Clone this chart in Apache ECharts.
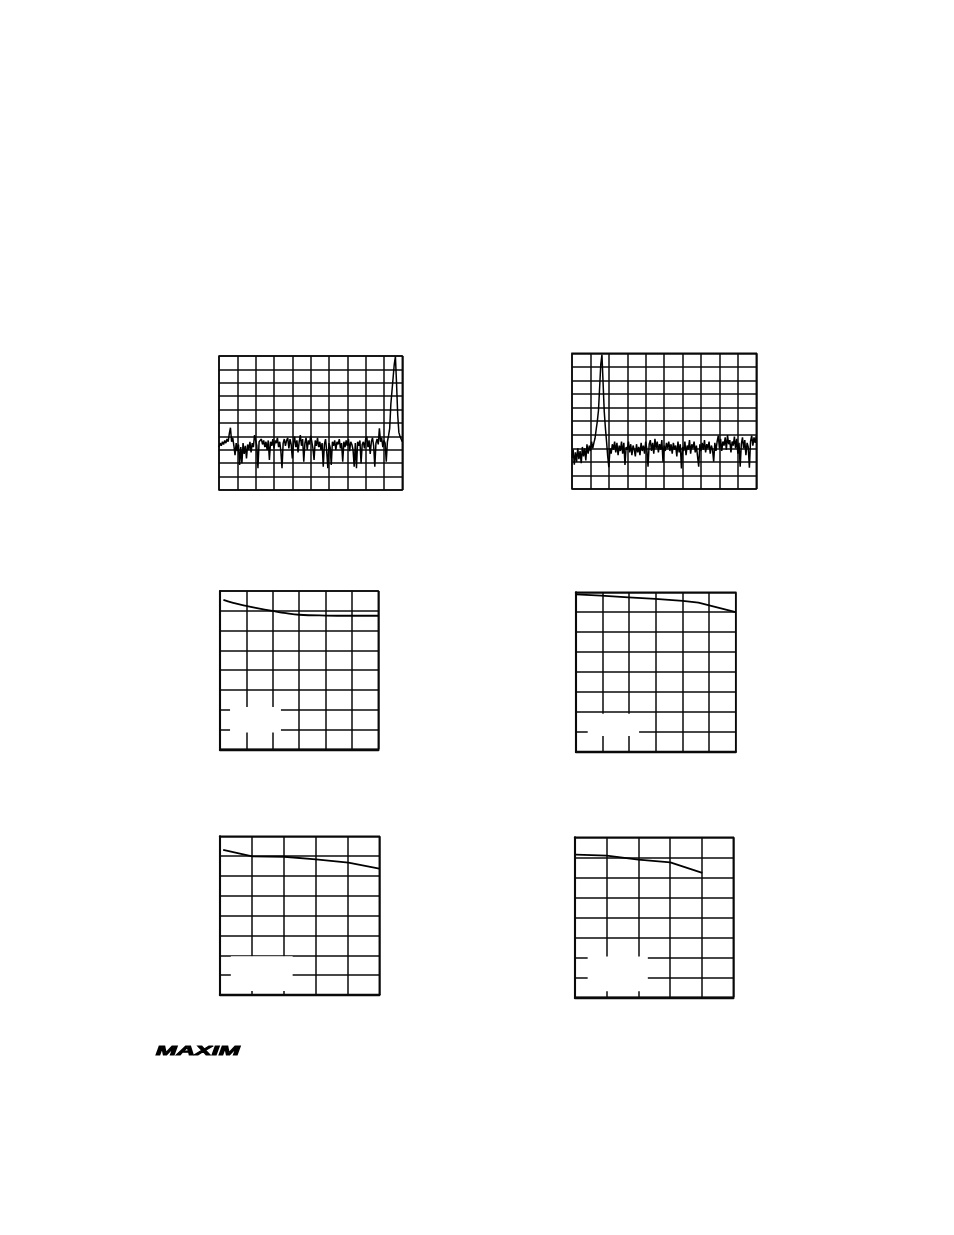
<!DOCTYPE html>
<html>
<head>
<meta charset="utf-8">
<script src="https://cdn.jsdelivr.net/npm/echarts@6/dist/echarts.min.js"></script>
<style>
html,body{margin:0;padding:0;background:#fff;}
#c{width:954px;height:1235px;}
</style>
</head>
<body>
<div id="c"></div>
<script>
// Spectrum traces (grid units, 10 x 10 divisions), sampled uniformly across the sweep
const spectrum1 = [3.2,3.5,3.3,3.6,3.4,3.7,3.5,3.8,3.6,4.2,4.65,3.6,3.9,3.3,2.6,3.5,2.9,3.4,1.87,3.2,
2.0,3.5,2.7,3.3,2.36,3.4,3.0,3.6,2.8,3.5,3.2,4.1,3.7,3.3,1.62,3.6,3.5,3.8,3.4,3.7,
3.2,3.6,3.0,3.7,2.24,3.6,3.3,3.8,3.1,3.7,3.5,3.9,3.2,3.6,2.9,1.62,3.5,3.8,3.3,3.7,
3.9,3.1,3.8,3.4,2.36,3.5,3.98,3.2,3.7,2.8,3.6,4.1,3.3,3.8,2.11,3.5,3.9,3.0,3.7,3.4,
4.05,3.6,3.1,2.24,3.7,3.3,3.9,3.2,3.6,3.0,3.5,1.74,3.4,3.8,2.9,1.62,3.5,3.2,1.87,3.6,
3.3,3.7,3.0,3.6,3.4,3.8,3.1,3.5,2.11,3.6,3.2,3.7,3.3,3.8,2.9,3.6,3.4,3.0,1.74,3.5,
1.62,3.6,3.3,3.7,1.99,3.4,3.6,3.1,3.8,3.98,3.2,3.7,2.7,3.6,3.9,3.3,1.74,3.5,3.8,3.4,
4.6,3.6,3.9,3.2,3.7,3.5,2.11,3.6,4.05,4.6,6.4,7.4,8.4,9.4,9.95,7.9,5.6,4.3,4.0,3.9,3.6];

const spectrum2 = [2.3,2.9,1.8,2.7,2.0,3.0,2.2,2.8,1.9,3.1,2.4,3.0,2.1,3.3,2.6,3.2,2.8,3.5,3.0,3.4,
3.74,4.4,5.0,5.8,7.5,9.2,9.9,7.8,5.7,4.5,3.5,2.4,1.6,3.0,2.6,3.3,2.9,3.5,2.7,3.4,
2.5,3.2,2.8,3.5,2.6,3.4,1.77,3.1,2.9,3.5,2.7,3.3,2.5,3.2,2.9,2.4,3.3,2.7,3.1,2.5,
3.4,2.8,3.2,2.6,3.5,2.9,1.64,3.3,3.6,2.8,3.4,2.6,3.7,3.0,3.5,2.7,3.3,2.9,3.6,2.01,
3.2,2.8,3.4,3.0,3.5,2.8,3.3,2.6,3.4,2.9,3.2,2.4,3.5,2.7,3.3,1.52,3.1,2.8,3.5,2.5,
3.2,2.9,3.6,2.6,3.3,3.0,3.5,2.7,3.2,2.4,1.64,3.3,2.8,3.4,2.9,3.6,2.7,3.3,3.0,3.5,
2.6,3.2,2.9,2.01,3.4,2.8,3.5,3.93,3.0,3.7,2.8,3.5,3.2,3.8,2.9,3.98,3.3,3.6,2.7,3.5,
3.2,3.86,3.0,3.7,2.6,3.4,1.64,3.3,3.8,3.0,3.6,2.5,3.4,3.1,1.57,3.5,3.93,3.2,3.8,3.4,3.9];

// Curves (grid units)
const curve3X = [0.13,0.5,1.0,1.5,2.0,2.5,3.0,4.0,5.0,6.0];
const curve3Y = [7.55,7.40,7.25,7.11,6.99,6.88,6.80,6.76,6.75,6.75];
const curve4X = [0,0.94,1.97,2.98,4.01,4.6,6.0];
const curve4Y = [7.90,7.83,7.75,7.67,7.57,7.48,7.00];
const curve5X = [0.10,1.01,2.01,3.01,4.03,5.0];
const curve5Y = [7.31,6.99,6.97,6.84,6.67,6.37];
const curve6X = [0.03,1.0,2.0,3.01,4.02];
const curve6Y = [7.13,7.08,6.88,6.75,6.22];

// Blank (erased legend) areas, grid units [x1,y1,x2,y2]
const blank3 = [0.38,0.85,2.31,2.14];
const blank4 = [0.44,0.79,2.37,1.9];
const blank5 = [0.34,0.2,2.28,1.95];
const blank6 = [0.4,0.3,2.3,2.04];

const pairs = (xs, ys) => xs.map((x, i) => [x, ys[i]]);

const grids = [
  {left:219, top:356, width:183.3, height:134, nx:10, ny:10},
  {left:572, top:353.3, width:184.3, height:135.7, nx:10, ny:10},
  {left:220, top:591, width:158.3, height:158.3, nx:6, ny:8},
  {left:576, top:592.3, width:159.7, height:159.4, nx:6, ny:8},
  {left:220, top:836.3, width:159.3, height:158.7, nx:5, ny:8},
  {left:575, top:837.3, width:158.3, height:160, nx:5, ny:8}
];

const LC = '#0a0a0a';
const gridOpt = grids.map(g => ({
  left:g.left, top:g.top, width:g.width, height:g.height,
  show:true, borderColor:LC, borderWidth:1.5, backgroundColor:'transparent'
}));

const xAxes = [], yAxes = [];
grids.forEach((g, gi) => {
  const heavy = gi >= 2;
  xAxes.push({
    type:'value', gridIndex:gi, min:0, max:g.nx, interval:1,
    axisLabel:{show:false}, axisTick:{show:false},
    axisLine:{show:heavy, onZero:false, lineStyle:{color:LC, width:2.4}},
    splitLine:{show:true, lineStyle:{color:LC, width:1.5}}
  });
  yAxes.push({
    type:'value', gridIndex:gi, min:0, max:g.ny, interval:1,
    axisLabel:{show:false}, axisTick:{show:false},
    axisLine:{show:heavy, onZero:false, lineStyle:{color:LC, width:2.1}},
    splitLine:{show:true, lineStyle:{color:LC, width:1.5}}
  });
});
// hidden category axes for the spectrum traces
[spectrum1, spectrum2].forEach((s, gi) => {
  xAxes.push({
    type:'category', gridIndex:gi, boundaryGap:false,
    data:s.map((_, i) => i), show:false
  });
});

const blankArea = b => ({
  silent:true,
  itemStyle:{color:'#ffffff', opacity:1},
  data:[[{xAxis:b[0], yAxis:b[1]}, {xAxis:b[2], yAxis:b[3]}]]
});

const series = [
  {type:'line', xAxisIndex:6, yAxisIndex:0, data:spectrum1, showSymbol:false,
   lineStyle:{color:'#000', width:1.5}},
  {type:'line', xAxisIndex:7, yAxisIndex:1, data:spectrum2, showSymbol:false,
   lineStyle:{color:'#000', width:1.5}},
  {type:'line', xAxisIndex:2, yAxisIndex:2, data:pairs(curve3X, curve3Y), showSymbol:false, smooth:0.4,
   lineStyle:{color:'#000', width:1.8}, markArea:blankArea(blank3)},
  {type:'line', xAxisIndex:3, yAxisIndex:3, data:pairs(curve4X, curve4Y), showSymbol:false,
   lineStyle:{color:'#000', width:1.8}, markArea:blankArea(blank4)},
  {type:'line', xAxisIndex:4, yAxisIndex:4, data:pairs(curve5X, curve5Y), showSymbol:false,
   lineStyle:{color:'#000', width:1.8}, markArea:blankArea(blank5)},
  {type:'line', xAxisIndex:5, yAxisIndex:5, data:pairs(curve6X, curve6Y), showSymbol:false,
   lineStyle:{color:'#000', width:1.8}, markArea:blankArea(blank6)}
];

const chart = echarts.init(document.getElementById('c'), null, {renderer:'canvas'});
chart.setOption({
  backgroundColor:'#ffffff',
  animation:false,
  grid:gridOpt,
  xAxis:xAxes,
  yAxis:yAxes,
  series:series,
  graphic:[{
    type:'text', left:155, top:1045, scaleX:2.1, scaleY:1,
    style:{text:'MAXIM', fill:'#000', stroke:'#000', lineWidth:0.8, fontSize:12, fontWeight:900, fontStyle:'italic',
      fontFamily:'Liberation Sans, Arial, sans-serif'}
  }]
});
</script>
</body>
</html>
